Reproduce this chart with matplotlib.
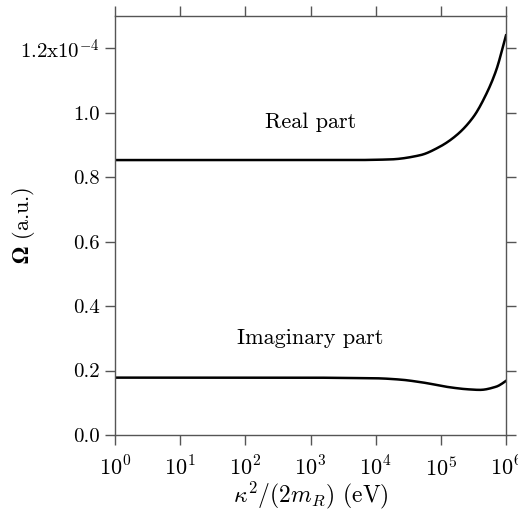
import numpy as np
import matplotlib
matplotlib.use("Agg")
import matplotlib.pyplot as plt

plt.rcParams['mathtext.fontset'] = 'cm'
plt.rcParams['font.family'] = 'serif'
plt.rcParams['font.serif'] = ['cmr10']
plt.rcParams['axes.unicode_minus'] = False

# data (units of 1e-4 a.u.), x given as log10 of energy in eV
log_e_real = [0.0, 1.0, 2.0, 3.0, 3.6, 4.22, 4.68, 4.98, 5.24, 5.50, 5.70, 5.85, 6.0]
real_part = [0.853, 0.853, 0.853, 0.853, 0.853, 0.855, 0.868, 0.894, 0.930, 0.987, 1.059, 1.132, 1.24]

log_e_imag = [0.0, 1.0, 2.0, 3.0, 3.45, 4.0, 4.37, 4.72, 5.14, 5.40, 5.60, 5.85, 5.98, 6.0]
imag_part = [0.178, 0.178, 0.178, 0.178, 0.177, 0.176, 0.172, 0.163, 0.148, 0.142, 0.140, 0.150, 0.165, 0.168]

xticks = [10.0**k for k in range(7)]
xlabels = [r'$10^{%d}$' % k for k in range(7)]
yticks = [0.0, 0.2, 0.4, 0.6, 0.8, 1.0, 1.2]
ylabels = ['0.0', '0.2', '0.4', '0.6', '0.8', '1.0', r'1.2x10$^{-4}$']


def spline(xs, ys, n=400):
    # monotone cubic hermite (Fritsch-Carlson) through the read points
    xs = np.asarray(xs, float)
    ys = np.asarray(ys, float)
    h = np.diff(xs)
    d = np.diff(ys) / h
    m = np.zeros_like(ys)
    m[0], m[-1] = d[0], d[-1]
    for i in range(1, len(xs) - 1):
        if d[i - 1] * d[i] <= 0:
            m[i] = 0.0
        else:
            w1 = 2 * h[i] + h[i - 1]
            w2 = h[i] + 2 * h[i - 1]
            m[i] = (w1 + w2) / (w1 / d[i - 1] + w2 / d[i])
    fine = np.linspace(xs[0], xs[-1], n)
    idx = np.clip(np.searchsorted(xs, fine) - 1, 0, len(xs) - 2)
    t = (fine - xs[idx]) / h[idx]
    h00 = 2 * t**3 - 3 * t**2 + 1
    h10 = t**3 - 2 * t**2 + t
    h01 = -2 * t**3 + 3 * t**2
    h11 = t**3 - t**2
    yy = h00 * ys[idx] + h10 * h[idx] * m[idx] + h01 * ys[idx + 1] + h11 * h[idx] * m[idx + 1]
    return 10**fine, yy


fig = plt.figure(figsize=(5.18, 5.19), dpi=100)
ax = fig.add_axes([115/518, 84/519, 391/518, 419/519])

ex, ry = spline(log_e_real, real_part)
ax.plot(ex, ry, color='black', lw=1.8)
ex2, iy = spline(log_e_imag, imag_part)
ax.plot(ex2, iy, color='black', lw=1.8)

ax.set_xscale('log')
ax.set_xlim(1, 1e6)
ax.set_ylim(0, 1.3)
ax.set_xticks(xticks)
ax.set_xticklabels(xlabels, fontsize=16)
ax.minorticks_off()
ax.set_yticks(yticks)
ax.set_yticklabels(ylabels, fontsize=15)
ax.tick_params(direction='out', length=7, width=1, color='#555555',
               top=True, right=True, pad=4)
ax.tick_params(axis='x', pad=8)
for s in ax.spines.values():
    s.set_color('#555555')
    s.set_linewidth(1)

ax.text(1e3, 0.97, 'Real part', fontsize=16, ha='center', va='center')
ax.text(1e3, 0.30, 'Imaginary part', fontsize=16, ha='center', va='center')

ax.set_xlabel(r'$\kappa^2/(2m_R)$ (eV)', fontsize=17, labelpad=0)
ylab = ax.set_ylabel(r'$\mathbf{\Omega}$ (a.u.)', fontsize=16)
ylab.set_math_fontfamily('stix')
ax.yaxis.set_label_coords(-0.2, 0.5)

fig.savefig('out.png', dpi=100)
